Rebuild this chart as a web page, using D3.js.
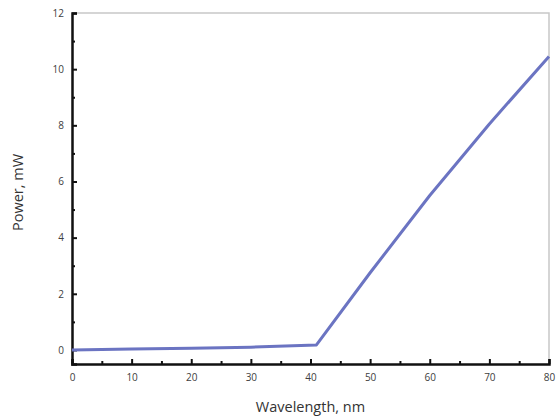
<!DOCTYPE html>
<html><head><meta charset="utf-8">
<script src="https://cdn.jsdelivr.net/npm/d3@7"></script>
<style>body{margin:0;background:#fff}</style>
</head><body>
<script>
const wavelength = [0, 10, 20, 30, 41, 50, 60, 70, 80];
const power = [0, 0.03, 0.06, 0.1, 0.18, 2.75, 5.5, 8.05, 10.45];
const xTicks = [0, 10, 20, 30, 40, 50, 60, 70, 80];
const yTicks = [0, 2, 4, 6, 8, 10, 12];
const xLabel = "Wavelength, nm";
const yLabel = "Power, mW";

const W = 558, H = 419;
const m = {left: 72, right: 9, top: 13, bottom: 55};
const svg = d3.select("body").append("svg").attr("width", W).attr("height", H);
const x = d3.scaleLinear().domain([0, 80]).range([m.left, W - m.right]);
const y = d3.scaleLinear().domain([-0.5, 12]).range([H - m.bottom, m.top]);
const font = "'Open Sans', sans-serif";

// frame top/right
svg.append("path")
  .attr("d", `M${x(0)},${y(12)}H${x(80)}V${y(-0.5)}`)
  .attr("fill", "none").attr("stroke", "#c8c8c8").attr("stroke-width", 1.5);

// x axis
const xa = svg.append("g").attr("transform", `translate(0,${y(-0.5)})`)
  .call(d3.axisBottom(x).tickValues(xTicks).tickSize(-5).tickPadding(8).tickFormat(d3.format("d")));
xa.selectAll(".tick text").attr("font-size", 10).attr("fill", "#404040").attr("font-family", font).attr("dy", "0.85em");
svg.append("g").attr("transform", `translate(0,${y(-0.5)})`)
  .call(d3.axisBottom(x).tickValues(d3.range(5, 80, 10)).tickSize(-3).tickFormat(""))
  .call(g => g.select(".domain").remove());
// y axis
const ya = svg.append("g").attr("transform", `translate(${x(0)},0)`)
  .call(d3.axisLeft(y).tickValues(yTicks).tickSize(-5).tickPadding(8).tickFormat(d3.format("d")));
ya.selectAll(".tick text").attr("font-size", 10).attr("fill", "#404040").attr("font-family", font);
svg.append("g").attr("transform", `translate(${x(0)},0)`)
  .call(d3.axisLeft(y).tickValues(d3.range(1, 12, 2)).tickSize(-3).tickFormat(""))
  .call(g => g.select(".domain").remove());

svg.selectAll(".domain").attr("stroke", "#111").attr("stroke-width", 2.5);
svg.selectAll(".tick line").attr("stroke", "#111").attr("stroke-width", 2);

// line
svg.append("path")
  .datum(wavelength.map((w, i) => [w, power[i]]))
  .attr("d", d3.line().x(d => x(d[0])).y(d => y(d[1])))
  .attr("fill", "none").attr("stroke", "#6b74c2").attr("stroke-width", 3).attr("stroke-linejoin", "round");

// titles
svg.append("text").attr("x", (x(0) + x(80)) / 2).attr("y", 412)
  .attr("text-anchor", "middle").attr("font-size", 14.5).attr("fill", "#333").attr("font-family", font).text(xLabel);
svg.append("text").attr("transform", `translate(23,${(y(12) + y(-0.5)) / 2 + 4}) rotate(-90)`)
  .attr("text-anchor", "middle").attr("font-size", 14.5).attr("fill", "#333").attr("font-family", font).text(yLabel);
</script>
</body></html>
